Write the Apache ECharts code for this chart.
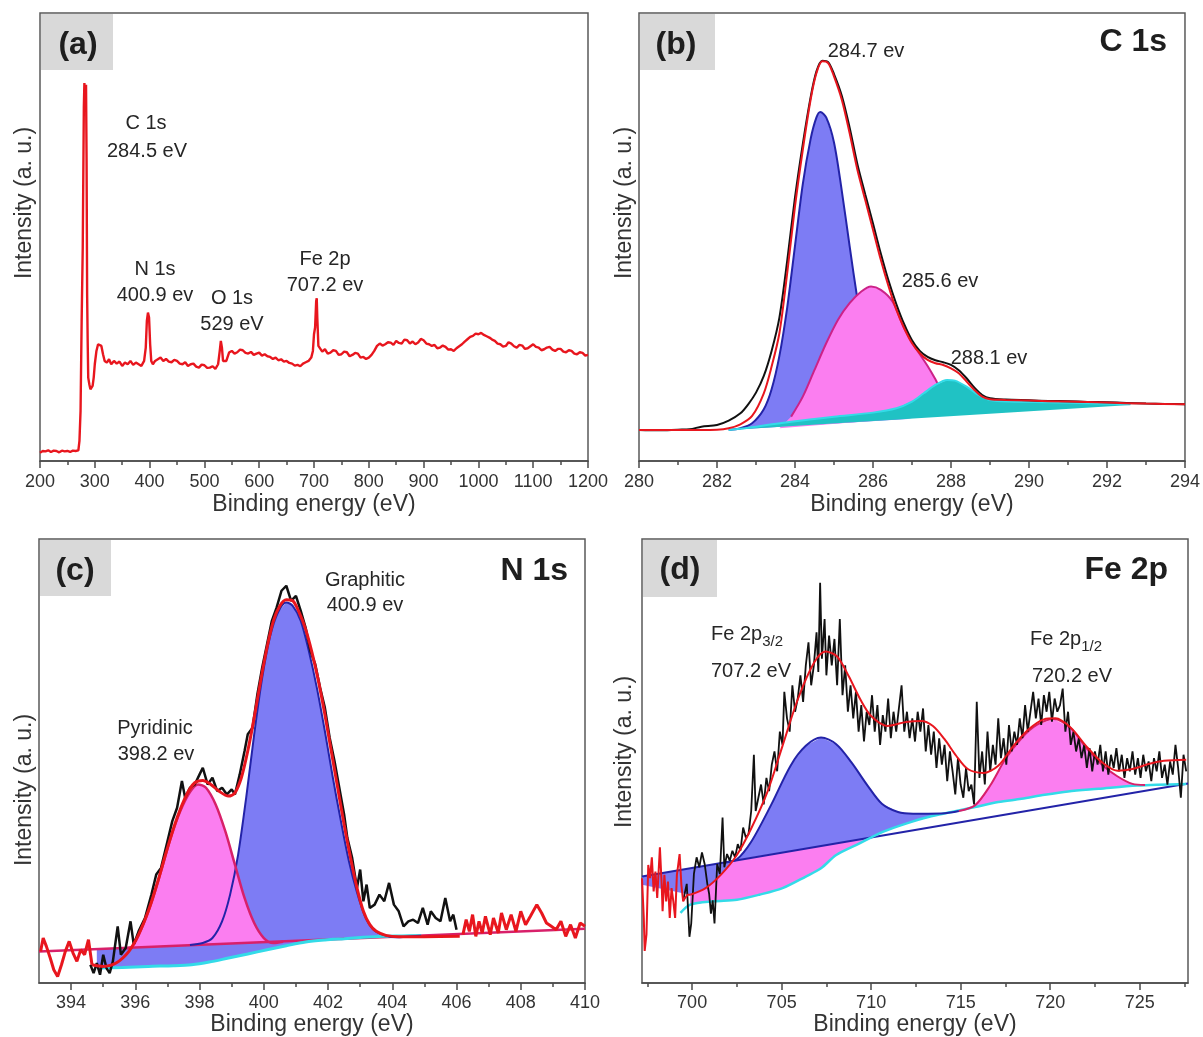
<!DOCTYPE html>
<html>
<head>
<meta charset="utf-8">
<script src="https://cdn.jsdelivr.net/npm/echarts/dist/echarts.min.js"></script>
<style>html,body{margin:0;padding:0;background:#fff}#chart{width:1203px;height:1037px}</style>
</head>
<body>
<div id="chart"></div>
<script>
// ===================== DATA =====================
// (a) XPS survey: [binding energy eV, intensity a.u.]
const aSurvey = [[200,25],[205,30],[210,29],[215,32],[220,27],[225,31],[230,30],[235,26],[240,31],[245,29],[250,30],[255,27],[260,31],[265,30],[270,32],[272,60],[274,150],[276,420],[278,640],[280,1060],[281,1133],[282,1095],[283,1060],[284,1128],[285,900],[286,500],[287,360],[288,250],[290,230],[292,215],[294,210],[296,225],[298,250],[300,290],[303,330],[306,350],[309,355],[312,345],[315,320],[318,300],[322,295],[326,305],[330,290],[335,300],[340,292],[345,298],[350,285],[355,295],[360,290],[365,300],[370,288],[375,295],[380,290],[385,285],[390,300],[393,340],[395,420],[397,445],[399,430],[401,350],[403,300],[406,290],[410,300],[415,305],[420,310],[425,300],[430,306],[435,298],[440,296],[445,303],[450,300],[455,292],[460,290],[465,296],[470,285],[475,290],[480,292],[485,283],[490,280],[495,289],[500,287],[505,279],[510,280],[515,284],[520,276],[525,290],[528,330],[530,360],[532,340],[534,300],[537,295],[540,300],[545,325],[550,330],[555,322],[560,326],[565,334],[570,332],[575,324],[580,322],[585,327],[590,318],[595,322],[600,325],[605,316],[610,320],[615,314],[620,312],[625,306],[630,310],[635,302],[640,305],[645,298],[650,300],[655,294],[660,292],[665,286],[670,288],[675,284],[680,292],[685,296],[690,300],[695,310],[698,330],[700,380],[702,400],[704,480],[705,488],[706,430],[708,345],[710,340],[715,328],[720,335],[725,322],[730,325],[735,332],[740,330],[745,318],[750,320],[755,328],[760,326],[765,314],[770,318],[775,324],[780,322],[785,310],[790,312],[795,306],[800,310],[805,318],[810,330],[815,345],[820,352],[825,346],[830,350],[835,356],[840,355],[845,348],[850,360],[855,354],[860,352],[865,364],[870,362],[875,352],[880,358],[885,350],[890,355],[895,366],[900,362],[905,352],[910,350],[915,345],[920,348],[925,338],[930,340],[935,346],[940,342],[945,334],[950,335],[955,330],[960,338],[965,344],[970,350],[975,358],[980,365],[985,372],[990,375],[995,382],[1000,380],[1005,384],[1010,378],[1015,374],[1020,370],[1025,364],[1030,360],[1035,352],[1040,350],[1045,343],[1050,345],[1055,356],[1060,352],[1065,344],[1070,340],[1075,348],[1080,346],[1085,336],[1090,338],[1095,344],[1100,350],[1105,342],[1110,340],[1115,332],[1120,335],[1125,340],[1130,342],[1135,334],[1140,330],[1145,336],[1150,336],[1155,328],[1160,326],[1165,332],[1170,330],[1175,322],[1180,320],[1185,326],[1190,324],[1195,316],[1200,318]];

// (b) C 1s
const bData = [[280,93],[280.5,92],[281,94],[281.3,95],[281.6,103],[282,108],[282.3,121],[282.6,143],[282.8,170],[283,205],[283.2,255],[283.4,330],[283.6,430],[283.8,600],[284,790],[284.2,950],[284.4,1090],[284.55,1168],[284.7,1200],[284.85,1196],[285,1160],[285.2,1095],[285.4,1000],[285.6,890],[285.8,800],[286,712],[286.2,622],[286.4,540],[286.6,470],[286.8,410],[287,362],[287.2,330],[287.4,312],[287.6,302],[287.8,296],[288,288],[288.2,272],[288.4,248],[288.6,220],[288.8,198],[289,188],[289.4,184],[290,182],[290.5,180],[291,179],[291.5,177],[292,176],[292.5,174],[293,172],[293.5,171],[294,170]];
const bFit = [[280,93],[281,93],[282,94],[282.3,98],[282.6,110],[282.9,135],[283.2,203],[283.4,283],[283.6,383],[283.8,563],[284,763],[284.2,933],[284.4,1083],[284.55,1163],[284.7,1198],[284.85,1193],[285,1153],[285.2,1083],[285.4,983],[285.6,873],[285.8,783],[286,693],[286.2,603],[286.4,523],[286.6,453],[286.8,398],[287,353],[287.2,323],[287.4,303],[287.6,293],[287.8,288],[288,278],[288.2,263],[288.4,238],[288.6,213],[288.8,193],[289,185],[289.4,183],[290,181],[291,178],[292,175],[293,172],[294,170]];
const bPeak284 = [[282.3,93],[282.6,98],[282.9,113],[283.2,155],[283.4,215],[283.6,315],[283.8,460],[284,645],[284.2,830],[284.4,965],[284.55,1030],[284.65,1046],[284.8,1030],[285,955],[285.2,810],[285.4,645],[285.6,485],[285.8,345],[286,245],[286.2,180],[286.5,133],[287,127]];
const bPeak286 = [[283.6,98],[283.9,133],[284.2,193],[284.5,273],[284.8,353],[285.1,423],[285.4,473],[285.7,508],[285.95,523],[286.2,513],[286.5,478],[286.8,398],[287.1,338],[287.4,285],[287.6,245],[287.8,200],[288.1,163],[288.4,143]];
const bPeak288 = [[282.3,93],[283,103],[283.9,118],[285,133],[286,145],[286.6,158],[287,178],[287.3,203],[287.6,228],[287.9,243],[288.1,241],[288.4,223],[288.7,198],[289,183],[289.5,178],[290.5,176],[291.5,173],[292.6,170]];
const bBackground = [[292.6,168],[282.3,93]];

// (c) N 1s
const cNoiseLeft = [[393.05,95],[393.13,135],[393.23,110],[393.35,75],[393.46,40],[393.58,20],[393.7,55],[393.82,95],[393.94,125],[394.06,90],[394.18,65],[394.3,100],[394.42,85],[394.54,130],[394.65,55]];
const cNoiseRight = [[406.2,145],[406.3,190],[406.4,155],[406.5,205],[406.6,140],[406.7,185],[406.8,150],[406.9,200],[407.05,145],[407.15,195],[407.3,150],[407.4,210],[407.55,160],[407.7,205],[407.85,155],[408,215],[408.15,175],[408.3,200],[408.5,235],[408.65,210],[408.8,180],[408.95,170],[409.1,160],[409.25,185],[409.4,140],[409.55,175],[409.7,135],[409.85,180],[410,170]];
const cFit = [[394.65,55],[395,50],[395.4,60],[395.8,95],[396.1,145],[396.4,215],[396.7,305],[397,405],[397.3,495],[397.6,565],[397.85,600],[398.1,607],[398.35,595],[398.6,575],[398.9,560],[399.1,570],[399.3,615],[399.5,695],[399.7,795],[399.9,905],[400.1,1005],[400.3,1085],[400.5,1130],[400.7,1148],[400.9,1145],[401.1,1110],[401.3,1060],[401.5,990],[401.7,905],[401.9,805],[402.1,695],[402.3,585],[402.5,475],[402.7,375],[402.9,285],[403.1,215],[403.3,175],[403.5,155],[403.8,143],[404.2,139],[405,139],[406.1,140]];
const cData = [[394.6,55],[394.7,30],[394.8,60],[394.9,25],[395,85],[395.1,45],[395.2,30],[395.3,65],[395.45,170],[395.55,85],[395.7,105],[395.85,185],[395.95,115],[396.1,155],[396.3,195],[396.5,265],[396.65,325],[396.8,345],[397,425],[397.15,485],[397.3,525],[397.45,605],[397.55,555],[397.7,585],[397.85,595],[398,625],[398.1,645],[398.25,595],[398.4,615],[398.55,575],[398.7,585],[398.85,565],[399,580],[399.1,565],[399.25,625],[399.4,695],[399.5,745],[399.65,765],[399.8,865],[399.95,945],[400.1,1015],[400.25,1085],[400.4,1125],[400.55,1175],[400.7,1190],[400.85,1145],[401,1160],[401.15,1115],[401.3,1065],[401.45,995],[401.6,955],[401.75,885],[401.9,825],[402.05,735],[402.2,665],[402.35,585],[402.5,505],[402.6,435],[402.75,375],[402.9,285],[403,340],[403.1,245],[403.2,295],[403.3,225],[403.45,235],[403.6,265],[403.75,245],[403.9,300],[404.05,235],[404.2,215],[404.35,170],[404.5,185],[404.65,190],[404.8,180],[404.95,225],[405.1,175],[405.2,215],[405.35,195],[405.5,185],[405.65,255],[405.8,185],[405.9,205],[406,160]];
const cPyridinic = [[395.6,103],[395.9,110],[396.2,165],[396.5,240],[396.8,335],[397.1,435],[397.4,515],[397.7,572],[397.95,595],[398.2,585],[398.5,535],[398.8,455],[399.1,355],[399.4,255],[399.7,180],[400,135],[400.3,120],[400.6,124]];
const cGraphitic = [[394.8,102],[395.5,105],[396.3,108],[397,111],[397.7,114],[398.1,120],[398.4,135],[398.7,185],[398.95,265],[399.2,385],[399.45,555],[399.7,745],[399.95,915],[400.2,1040],[400.45,1112],[400.7,1140],[400.9,1130],[401.15,1085],[401.4,995],[401.65,885],[401.9,755],[402.15,615],[402.4,485],[402.65,365],[402.9,272],[403.15,200],[403.4,162],[403.7,145],[404.1,137],[404.6,140],[404.9,142]];
const cBackground = [[394.8,45],[395.6,47],[396.4,50],[397.2,52],[397.75,55],[398.3,63],[398.9,75],[399.5,87],[400.1,100],[400.7,112],[401.3,123],[401.9,129],[402.5,133],[403.1,137],[403.7,140],[404.3,141],[404.9,142]];
const cPyridinicBase = [[393,95],[410,163]];

// (d) Fe 2p
const dNoiseLeft = [[697.2,317],[697.3,197],[697.35,97],[697.45,147],[697.55,357],[697.65,317],[697.75,380],[697.85,277],[697.95,337],[698.05,257],[698.2,410],[698.3,297],[698.35,217],[698.45,327],[698.55,247],[698.65,307],[698.75,197],[698.85,287],[698.95,247],[699.05,197],[699.15,327],[699.3,390],[699.4,297],[699.5,247],[699.6,257],[699.75,267],[699.9,267]];
const dData = [[699.5,250],[699.7,300],[699.85,140],[699.95,180],[700.1,330],[700.25,380],[700.4,350],[700.55,395],[700.7,360],[700.85,300],[700.95,270],[701.05,210],[701.15,250],[701.25,180],[701.4,360],[701.55,330],[701.7,500],[701.8,350],[701.95,390],[702.1,370],[702.25,400],[702.4,380],[702.55,420],[702.7,400],[702.85,470],[703,440],[703.15,450],[703.3,520],[703.45,690],[703.55,520],[703.7,560],[703.85,600],[704,540],[704.15,620],[704.3,580],[704.45,660],[704.6,700],[704.75,640],[704.9,760],[705.05,720],[705.15,880],[705.3,800],[705.45,760],[705.6,900],[705.75,820],[705.9,860],[706.05,930],[706.2,850],[706.35,960],[706.5,1030],[706.65,900],[706.8,960],[706.95,1060],[707.05,940],[707.15,1210],[707.25,980],[707.4,1100],[707.5,930],[707.65,1050],[707.8,960],[707.95,1040],[708.1,900],[708.25,1100],[708.4,870],[708.55,960],[708.7,820],[708.85,900],[709,800],[709.15,880],[709.3,760],[709.45,840],[709.6,730],[709.75,820],[709.9,780],[710.05,870],[710.2,760],[710.35,840],[710.5,720],[710.65,810],[710.8,760],[710.95,860],[711.1,740],[711.25,820],[711.4,760],[711.55,830],[711.7,900],[711.85,760],[712,820],[712.15,740],[712.3,800],[712.45,730],[712.6,820],[712.75,760],[712.9,830],[713.05,700],[713.2,780],[713.35,690],[713.5,760],[713.65,650],[713.8,740],[713.95,660],[714.1,720],[714.25,610],[714.4,700],[714.55,640],[714.7,570],[714.85,680],[715,600],[715.15,560],[715.3,650],[715.45,580],[715.6,600],[715.75,540],[715.9,850],[716.05,620],[716.2,700],[716.35,600],[716.5,760],[716.65,640],[716.8,720],[716.95,660],[717.1,800],[717.25,680],[717.4,740],[717.55,660],[717.7,780],[717.85,700],[718,760],[718.15,720],[718.3,800],[718.45,740],[718.6,840],[718.75,760],[718.9,820],[719.05,880],[719.2,800],[719.35,860],[719.5,780],[719.65,870],[719.8,820],[719.95,880],[720.1,790],[720.25,860],[720.4,820],[720.55,840],[720.7,890],[720.85,760],[721,820],[721.15,720],[721.3,760],[721.45,700],[721.6,740],[721.75,680],[721.9,720],[722.05,650],[722.2,710],[722.35,640],[722.5,700],[722.65,660],[722.8,720],[722.95,640],[723.1,700],[723.25,630],[723.4,690],[723.55,650],[723.7,710],[723.85,640],[724,690],[724.15,620],[724.3,680],[724.45,640],[724.6,700],[724.75,630],[724.9,680],[725.05,620],[725.2,690],[725.35,640],[725.5,670],[725.65,610],[725.8,680],[725.95,640],[726.1,700],[726.25,620],[726.4,660],[726.55,600],[726.7,670],[726.85,630],[727,720],[727.15,650],[727.3,560],[727.45,690],[727.6,640]];
const dFit = [[699.9,267],[700.75,287],[701.6,327],[702.5,387],[703.3,467],[704.2,577],[705.05,717],[705.9,857],[706.8,967],[707.45,1002],[708.1,987],[708.75,927],[709.4,857],[710,807],[710.9,777],[711.95,789],[712.8,792],[713.45,777],[714.1,737],[714.75,687],[715.4,647],[716.25,635],[717.1,657],[717.95,717],[718.8,767],[719.65,797],[720.3,800],[721.15,772],[722,717],[722.9,667],[723.75,642],[724.6,647],[725.5,662],[726.35,672],[727.6,675]];
const dPeak707 = [[697.2,322],[700,348],[701.8,364],[702.5,374],[703.3,427],[704.4,537],[705.5,657],[706.35,717],[707.2,742],[708.05,722],[708.9,667],[709.8,597],[710.6,542],[711.5,517],[712.35,512],[713.2,512],[714.1,513],[714.9,520]];
const dPeak720 = [[714.9,520],[715.8,537],[716.65,597],[717.5,677],[718.4,740],[719.25,780],[720.2,798],[721.15,770],[722,712],[722.9,660],[723.75,625],[724.6,602],[725.3,599]];
const dBackground = [[699.35,212],[699.9,237],[701.2,247],[702.5,252],[703.75,267],[705.05,287],[706.35,322],[707.2,347],[708.05,387],[709.35,422],[710.65,457],[711.95,482],[713.2,502],[714.5,517],[715.8,532],[717.1,547],[718.4,557],[719.7,569],[721,579],[722.7,587],[724.85,597],[727.6,602]];
const dLinearBg = [[697.2,322],[727.7,603]];
const dBlueLowerLeft = [[699.9,267],[697.2,297]];
const dPinkLeftTop = [[699.9,267],[700.75,287],[701.6,327],[702.3,371],[710.2,442]];

// Tick label values
const cTickValues = [394,396,398,400,402,404,406,408,410];
const cMinorTicks = [395,397,399,401,403,405,407,409];
const dTickValues = [700,705,710,715,720,725];
const dMinorTicks = [697.5,702.5,707.5,712.5,717.5,722.5,727.5];

// ===================== CHART =====================
const FONT = "'Liberation Sans', Arial, sans-serif";
const AX = '#4a4a4a';
const TXT = '#262626';
const RED = '#e8161e', BLUEF = '#7d7cf4', BLUEL = '#2323a8', PINKF = '#fb7ef0', PINKL = '#cc2288', CYANL = '#33dbe8', CYANF = '#20c2c4', BLACK = '#111111', CRIMSON = '#d8206a';

const chart = echarts.init(document.getElementById('chart'));

const grids = [
  {left: 40, top: 13, width: 548, height: 448},
  {left: 639, top: 13, width: 546, height: 448},
  {left: 39, top: 539, width: 546, height: 449},
  {left: 642, top: 539, width: 546, height: 447}
].map(g => Object.assign(g, {show: true, borderColor: '#5a5a5a', borderWidth: 1.5, backgroundColor: '#fff'}));

const plain = v => String(v);
function labelStyle(margin, custom) {
  const s = {show: true, fontSize: 18, color: '#333', fontFamily: FONT, margin, showMinLabel: true, showMaxLabel: true, formatter: plain};
  if (custom) s.customValues = custom;
  return s;
}
function xAxis(gi, min, max, extra, nameGap, labelMargin) {
  return Object.assign({
    gridIndex: gi, type: 'value', min, max, position: 'bottom',
    axisLine: {show: true, onZero: false, lineStyle: {color: AX, width: 1.5}},
    axisTick: {show: true, inside: false, length: 7, lineStyle: {color: AX, width: 1.5}},
    minorTick: {show: true, splitNumber: 2, length: 4, lineStyle: {color: AX, width: 1.5}},
    splitLine: {show: false}, minorSplitLine: {show: false},
    axisLabel: labelStyle(labelMargin),
    name: 'Binding energy (eV)', nameLocation: 'middle', nameGap: nameGap,
    nameTextStyle: {fontSize: 23, color: '#333', fontFamily: FONT}
  }, extra);
}
function minorAxis(gi, min, max, vals) {
  return {gridIndex: gi, type: 'value', min, max, position: 'bottom',
    axisLine: {show: false, onZero: false}, axisLabel: {show: false}, splitLine: {show: false},
    axisTick: {show: true, length: 4, customValues: vals, lineStyle: {color: AX, width: 1.5}}};
}
const xAxes = [
  xAxis(0, 200, 1200, {interval: 100}, 32, 12),
  xAxis(1, 280, 294, {interval: 2}, 32, 12),
  xAxis(2, 393, 410, {minorTick: {show: false}, axisLabel: labelStyle(11, cTickValues), axisTick: {show: true, length: 7, customValues: cTickValues, lineStyle: {color: AX, width: 1.5}}}, 27, 11),
  xAxis(3, 697.2, 727.7, {minorTick: {show: false}, axisLabel: labelStyle(11, dTickValues), axisTick: {show: true, length: 7, customValues: dTickValues, lineStyle: {color: AX, width: 1.5}}}, 27, 11),
  minorAxis(2, 393, 410, cMinorTicks),
  minorAxis(3, 697.2, 727.7, dMinorTicks)
];
const yMax = [1343, 1343, 1330, 1342];
const yAxes = yMax.map((m, i) => ({gridIndex: i, type: 'value', min: 0, max: m, show: true,
  axisLine: {show: false}, axisTick: {show: false}, axisLabel: {show: false}, splitLine: {show: false}}));

function line(gi, data, color, width, z, smooth) {
  return {type: 'line', xAxisIndex: gi, yAxisIndex: gi, data, symbol: 'none', showSymbol: false,
    smooth: smooth || false, lineStyle: {color, width}, z, silent: true, clip: true, animation: false};
}
function poly(gi, pts, fill, z) {
  return {type: 'custom', coordinateSystem: 'cartesian2d', xAxisIndex: gi, yAxisIndex: gi,
    data: [pts[0]], z, silent: true, clip: true, animation: false,
    renderItem: (params, api) => ({type: 'polygon', shape: {points: pts.map(p => api.coord(p))}, style: {fill}})};
}
const rev = a => a.slice().reverse();
const between = (a, lo, hi) => a.filter(p => p[0] >= lo && p[0] <= hi);

const series = [
  // (a)
  line(0, aSurvey, RED, 2.4, 5),
  // (b)  layered: blue, magenta, cyan
  poly(1, bPeak284, BLUEF, 1),
  line(1, between(bPeak284, 282.3, 286.6), BLUEL, 2, 2, 0.3),
  poly(1, bPeak286, PINKF, 3),
  line(1, between(bPeak286, 283.9, 288.2), PINKL, 2, 4, 0.3),
  poly(1, bPeak288.concat(bBackground), CYANF, 5),
  line(1, bPeak288, CYANL, 2, 6, 0.3),
  line(1, bData, BLACK, 2, 7, 0.3),
  line(1, bFit, RED, 2, 8, 0.3),
  // (c)
  poly(2, cGraphitic.concat(rev(cBackground)), BLUEF, 1),
  poly(2, cPyridinic, PINKF, 2),
  line(2, cPyridinicBase, CRIMSON, 2.5, 4),
  line(2, cBackground, CYANL, 3, 4, 0.3),
  line(2, between(cGraphitic, 397.7, 405), BLUEL, 2, 4, 0.3),
  line(2, cPyridinic, CRIMSON, 2.5, 4, 0.3),
  line(2, cData, BLACK, 2.5, 5),
  line(2, cNoiseLeft, RED, 3, 6),
  line(2, cNoiseRight, RED, 3, 6),
  line(2, cFit, RED, 3, 6, 0.3),
  // (d)
  poly(3, dPeak707.concat(rev(between(dBackground, 699.9, 714.9)), dBlueLowerLeft), BLUEF, 1),
  poly(3, dPinkLeftTop.concat(rev(between(dBackground, 699.9, 710.2))), PINKF, 2),
  poly(3, dPeak720.concat(rev(between(dBackground, 715, 725.2))), PINKF, 2),
  line(3, dLinearBg, BLUEL, 2, 4),
  line(3, dBackground, CYANL, 2.5, 4, 0.3),
  line(3, between(dPeak707, 701.8, 715), BLUEL, 2, 4, 0.3),
  line(3, dPeak720, CRIMSON, 2, 4, 0.3),
  line(3, dData, BLACK, 1.8, 5),
  line(3, dNoiseLeft, RED, 2, 6),
  line(3, dFit, RED, 2, 6, 0.3)
];

function txt(x, y, text, size, opts) {
  return Object.assign({type: 'text', x, y, z: 120, silent: true,
    style: Object.assign({text, fontSize: size, fontFamily: FONT, fill: TXT, align: 'center', verticalAlign: 'middle'}, (opts && opts.style) || {})},
    opts && opts.rotation ? {rotation: opts.rotation} : {});
}
function box(x, y, w, h) {
  return {type: 'rect', shape: {x, y, width: w, height: h}, style: {fill: '#d9d9d9'}, z: 110, silent: true};
}
const subRich = {n: {fontSize: 20, fontFamily: FONT, fill: TXT, lineHeight: 30}, s: {fontSize: 15, fontFamily: FONT, fill: TXT, lineHeight: 30, verticalAlign: 'bottom', padding: [8, 0, 0, 0]}};
const BIG = {fontWeight: 'bold', fill: '#1e1e1e'};
const YT = {rotation: Math.PI / 2, style: {fill: '#333'}};

const graphic = [
  box(41, 14, 72, 56), box(640, 14, 75, 56), box(40, 540, 71, 56), box(643, 540, 74, 57),
  txt(78, 45, '(a)', 32, {style: BIG}),
  txt(676, 45, '(b)', 32, {style: BIG}),
  txt(75, 571, '(c)', 32, {style: BIG}),
  txt(680, 570, '(d)', 32, {style: BIG}),
  txt(1167, 42, 'C 1s', 32, {style: Object.assign({align: 'right'}, BIG)}),
  txt(568, 571, 'N 1s', 32, {style: Object.assign({align: 'right'}, BIG)}),
  txt(1168, 570, 'Fe 2p', 32, {style: Object.assign({align: 'right'}, BIG)}),
  // y-axis titles
  txt(25, 203, 'Intensity (a. u.)', 23, YT),
  txt(625, 203, 'Intensity (a. u.)', 23, YT),
  txt(25, 790, 'Intensity (a. u.)', 23, YT),
  txt(625, 752, 'Intensity (a. u.)', 23, YT),
  // (a) annotations
  txt(146, 123, 'C 1s', 20), txt(147, 151, '284.5 eV', 20),
  txt(155, 269, 'N 1s', 20), txt(155, 295, '400.9 ev', 20),
  txt(232, 298, 'O 1s', 20), txt(232, 324, '529 eV', 20),
  txt(325, 259, 'Fe 2p', 20), txt(325, 285, '707.2 ev', 20),
  // (b)
  txt(866, 51, '284.7 ev', 20), txt(940, 281, '285.6 ev', 20), txt(989, 358, '288.1 ev', 20),
  // (c)
  txt(365, 580, 'Graphitic', 20), txt(365, 605, '400.9 ev', 20),
  txt(155, 728, 'Pyridinic', 20), txt(156, 754, '398.2 ev', 20),
  // (d)
  {type: 'text', x: 711, y: 634, z: 120, silent: true, style: {text: '{n|Fe 2p}{s|3/2}', rich: subRich, align: 'left', verticalAlign: 'middle', fontFamily: FONT}},
  txt(751, 671, '707.2 eV', 20),
  {type: 'text', x: 1030, y: 639, z: 120, silent: true, style: {text: '{n|Fe 2p}{s|1/2}', rich: subRich, align: 'left', verticalAlign: 'middle', fontFamily: FONT}},
  txt(1072, 676, '720.2 eV', 20)
];

chart.setOption({
  animation: false,
  backgroundColor: '#fff',
  textStyle: {fontFamily: FONT},
  grid: grids,
  xAxis: xAxes,
  yAxis: yAxes,
  series,
  graphic
});
</script>
</body>
</html>
